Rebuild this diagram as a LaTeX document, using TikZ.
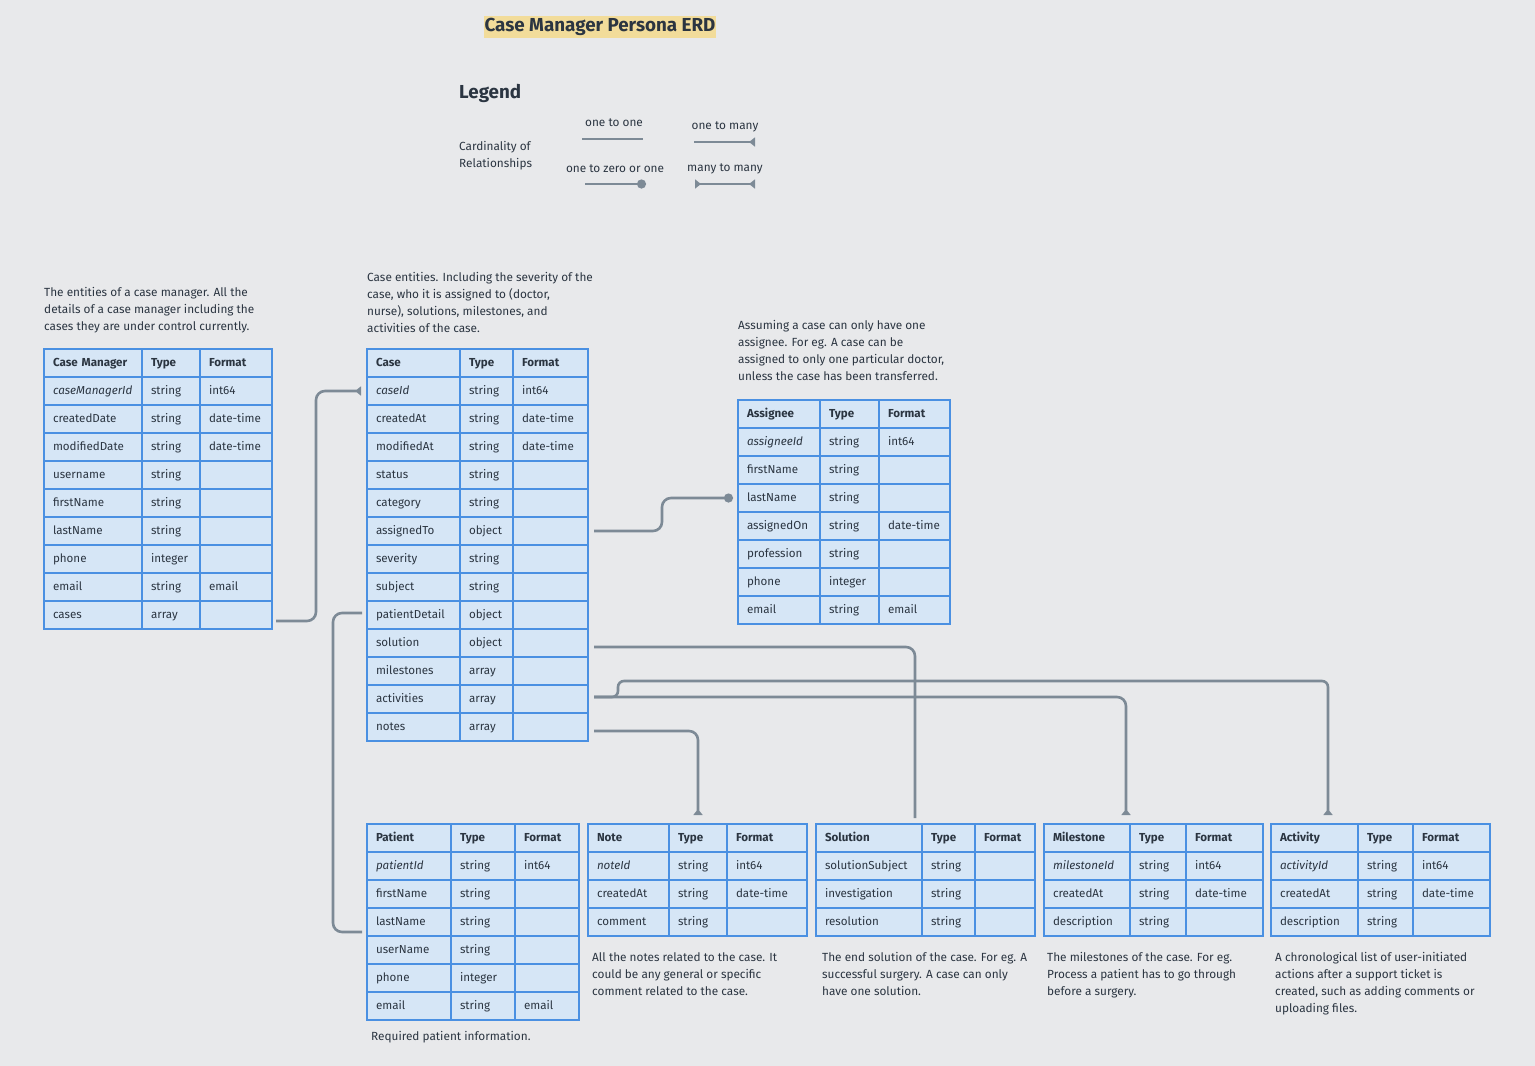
\documentclass[tikz,border=0pt]{standalone}
\usepackage{fontspec}
\setmainfont{Fira Sans}
\usetikzlibrary{arrows.meta,positioning}

\definecolor{bgcol}{HTML}{E8E9EB}
\definecolor{cellfill}{HTML}{D6E6F6}
\definecolor{cellline}{HTML}{4A90E2}
\definecolor{inkcol}{HTML}{2B3541}
\definecolor{linkcol}{HTML}{7D8A96}
\definecolor{markfill}{HTML}{F2DC9A}

% one ERD table: name, x, y, three column widths, rows
\newcommand{\erdtable}[7]{%
  \pgfmathsetlengthmacro{\wa}{#4-18}%
  \pgfmathsetlengthmacro{\wb}{#5-18}%
  \pgfmathsetlengthmacro{\wc}{#6-18}%
  \foreach [count=\i from 0] \ca/\cb/\cc in {#7} {
    \node[cell,text width=\wa,anchor=north west] (#1-\i-a) at (#2,{#3+28*\i}) {\ifnum\i=0 \bfseries\fi\ca};
    \node[cell,text width=\wb,right=0pt of #1-\i-a] (#1-\i-b) {\ifnum\i=0 \bfseries\fi\cb};
    \node[cell,text width=\wc,right=0pt of #1-\i-b] (#1-\i-c) {\ifnum\i=0 \bfseries\fi\cc};
  }%
}

\begin{document}
\begin{tikzpicture}[x=1pt,y=-1pt,
    cell/.style={draw=cellline,fill=cellfill,line width=1.3pt,minimum height=28pt,
      inner xsep=9pt,inner ysep=0pt,outer sep=0pt,text height=9pt,text depth=3pt,align=left,
      font=\fontsize{11.6}{14}\selectfont,text=inkcol},
    desc/.style={align=left,inner sep=0pt,font=\fontsize{11.8}{17}\selectfont,text=inkcol},
    lbl/.style={inner sep=0pt,font=\fontsize{11.8}{14}\selectfont,text=inkcol},
    link/.style={draw=linkcol,line width=2.6pt,rounded corners=9pt},
    many/.style={-{Triangle[reversed,width=9pt,length=6pt]}}]

\fill[bgcol] (0,0) rectangle (1535,1066);

% title and legend
\node[fill=markfill,inner xsep=1pt,inner ysep=2pt,font=\fontsize{18.8}{22}\selectfont\bfseries,text=inkcol] (title) at (600,27) {Case Manager Persona ERD};
\node[anchor=west,inner sep=0pt,font=\fontsize{18.8}{22}\selectfont\bfseries,text=inkcol] (legend) at (459,93) {Legend};
\node[desc,anchor=west] (card) at (459,156) {Cardinality of\\Relationships};

\node[lbl] (oneone) at (614,123) {one to one};
\node[lbl] (onemany) at (725,127) {one to many};
\node[lbl] (onezero) at (615,169) {one to zero or one};
\node[lbl] (manymany) at (725,169) {many to many};

\coordinate (oo-a) at (582,139); \coordinate (oo-b) at (643,139);
\coordinate (om-a) at (694,142); \coordinate (om-b) at (755,142);
\coordinate (oz-a) at (585,184); \coordinate (oz-b) at (646,184);
\coordinate (mm-a) at (695,184); \coordinate (mm-b) at (755,184);
\draw[link] (oo-a) -- (oo-b);
\draw[link,many] (om-a) -- (om-b);
\draw[link,-{Circle[length=9pt]}] (oz-a) -- (oz-b);
\draw[link,{Triangle[reversed,width=9pt,length=6pt]}-{Triangle[reversed,width=9pt,length=6pt]}] (mm-a) -- (mm-b);

% tables
\erdtable{cm}{44}{349}{98}{58}{72}{Case Manager/Type/Format,
  \textit{caseManagerId}/string/int64, createdDate/string/date-time,
  modifiedDate/string/date-time, username/string/{}, firstName/string/{},
  lastName/string/{}, phone/integer/{}, email/string/email, cases/array/{}}

\erdtable{case}{367}{349}{93}{53}{75}{Case/Type/Format,
  \textit{caseId}/string/int64, createdAt/string/date-time,
  modifiedAt/string/date-time, status/string/{}, category/string/{},
  assignedTo/object/{}, severity/string/{}, subject/string/{},
  patientDetail/object/{}, solution/object/{}, milestones/array/{},
  activities/array/{}, notes/array/{}}

\erdtable{asg}{738}{400}{82}{59}{71}{Assignee/Type/Format,
  \textit{assigneeId}/string/int64, firstName/string/{}, lastName/string/{},
  assignedOn/string/date-time, profession/string/{}, phone/integer/{},
  email/string/email}

\erdtable{pat}{367}{824}{84}{64}{64}{Patient/Type/Format,
  \textit{patientId}/string/int64, firstName/string/{}, lastName/string/{},
  userName/string/{}, phone/integer/{}, email/string/email}

\erdtable{note}{588}{824}{81}{58}{80}{Note/Type/Format,
  \textit{noteId}/string/int64, createdAt/string/date-time, comment/string/{}}

\erdtable{sol}{816}{824}{106}{53}{60}{Solution/Type/Format,
  solutionSubject/string/{}, investigation/string/{}, resolution/string/{}}

\erdtable{ms}{1044}{824}{86}{56}{77}{Milestone/Type/Format,
  \textit{milestoneId}/string/int64, createdAt/string/date-time,
  description/string/{}}

\erdtable{act}{1271}{824}{87}{55}{77}{Activity/Type/Format,
  \textit{activityId}/string/int64, createdAt/string/date-time,
  description/string/{}}

% descriptions
\node[desc,anchor=south west] (cmtxt) at ([yshift=16pt]cm-0-a.north west)
  {The entities of a case manager. All the\\details of a case manager including the\\cases they are under control currently.};
\node[desc,anchor=south west] (casetxt) at ([yshift=16pt]case-0-a.north west)
  {Case entities. Including the severity of the\\case, who it is assigned to (doctor,\\nurse), solutions, milestones, and\\activities of the case.};
\node[desc,anchor=south west] (asgtxt) at ([yshift=19pt]asg-0-a.north west)
  {Assuming a case can only have one\\assignee. For eg. A case can be\\assigned to only one particular doctor,\\unless the case has been transferred.};
\node[desc,anchor=north west] (pattxt) at ([xshift=4pt,yshift=-11pt]pat-6-a.south west)
  {Required patient information.};
\node[desc,anchor=north west] (notetxt) at ([xshift=4pt,yshift=-16pt]note-3-a.south west)
  {All the notes related to the case. It\\could be any general or specific\\comment related to the case.};
\node[desc,anchor=north west] (soltxt) at ([xshift=6pt,yshift=-16pt]sol-3-a.south west)
  {The end solution of the case. For eg. A\\successful surgery. A case can only\\have one solution.};
\node[desc,anchor=north west] (mstxt) at ([xshift=3pt,yshift=-16pt]ms-3-a.south west)
  {The milestones of the case. For eg.\\Process a patient has to go through\\before a surgery.};
\node[desc,anchor=north west] (acttxt) at ([xshift=4pt,yshift=-16pt]act-3-a.south west)
  {A chronological list of user-initiated\\actions after a support ticket is\\created, such as adding comments or\\uploading files.};

% relationships
\draw[link,many] ([xshift=4pt,yshift=-6pt]cm-9-c.east) -| ([xshift=-51pt]case-1-a.west) -- ([xshift=-6pt]case-1-a.west);
\draw[link] ([xshift=-5pt,yshift=2pt]case-9-a.west) -| ([xshift=-34pt,yshift=-10pt]pat-3-a.west) -- ([xshift=-5pt,yshift=-10pt]pat-3-a.west);
\draw[link,-{Circle[length=9pt]}] ([xshift=6pt]case-6-c.east) -| ([xshift=-76pt]asg-3-a.west) -- ([xshift=-5pt]asg-3-a.west);
\draw[link] ([xshift=6pt,yshift=-4pt]case-10-c.east) -| ([xshift=-7pt,yshift=6pt]sol-0-a.north east);
\draw[link,many] ([xshift=6pt,yshift=2pt]case-12-c.east) -| ([xshift=-4pt,yshift=9pt]ms-0-a.north east);
\draw[link,many,rounded corners=6pt] ([xshift=6pt,yshift=2pt]case-12-c.east) -| ([xshift=30pt,yshift=18pt]case-12-c.east) -| ([xshift=-30pt,yshift=9pt]act-0-a.north east);
\draw[link,many] ([xshift=6pt,yshift=-4pt]case-13-c.east) -| ([yshift=9pt]note-0-b.north);

\end{tikzpicture}
\end{document}
